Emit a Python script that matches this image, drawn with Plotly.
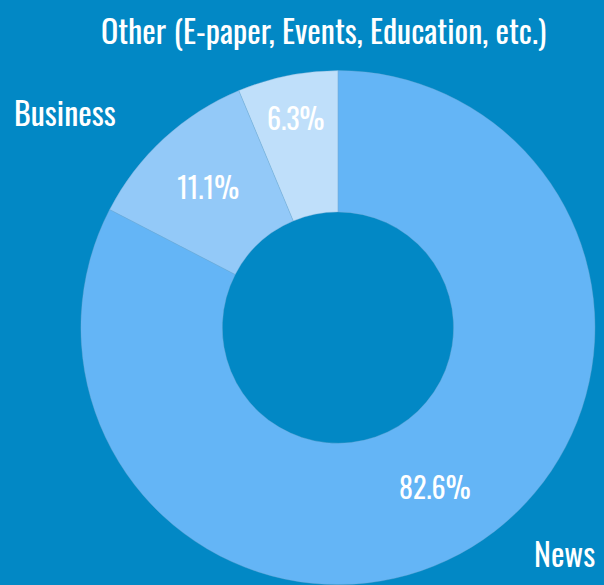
import plotly.graph_objects as go

labels = ["News", "Business", "Other (E-paper, Events, Education, etc.)"]
values = [82.6, 11.1, 6.3]
colors = ["#64b5f6", "#93c9f8", "#bfdffa"]

FONT = "Oswald, Roboto Condensed, sans-serif"
BG = "#0288c5"

fig = go.Figure(go.Pie(
    labels=labels,
    values=values,
    sort=False,
    direction="clockwise",
    rotation=0,
    hole=0.45,
    marker=dict(colors=colors, line=dict(color="rgba(120,170,210,0.6)", width=0.6)),
    texttemplate="%{value:.1f}%",
    textposition="inside",
    insidetextorientation="horizontal",
    textfont=dict(family=FONT, size=28, color="white", weight=400),
    domain=dict(x=[0.134, 0.985], y=[0.0, 0.880]),
    showlegend=False,
    hoverinfo="label+percent",
))

ann_font = dict(family=FONT, size=32, color="white", weight=400)
fig.add_annotation(text=labels[2], x=0.535, y=0.949, xref="paper", yref="paper",
                   showarrow=False, font=ann_font, xanchor="center", yanchor="middle")
fig.add_annotation(text=labels[1], x=0.108, y=0.809, xref="paper", yref="paper",
                   showarrow=False, font=ann_font, xanchor="center", yanchor="middle")
fig.add_annotation(text=labels[0], x=0.934, y=0.056, xref="paper", yref="paper",
                   showarrow=False, font=ann_font, xanchor="center", yanchor="middle")

fig.update_layout(
    width=604, height=585,
    margin=dict(l=0, r=0, t=0, b=0),
    paper_bgcolor=BG, plot_bgcolor=BG,
)

fig.write_html("out.html", config=dict(displayModeBar=False))
with open("out.html") as fh:
    s = fh.read()
s = s.replace("<body>", '<body style="margin:0">', 1)
with open("out.html", "w") as fh:
    fh.write(s)
